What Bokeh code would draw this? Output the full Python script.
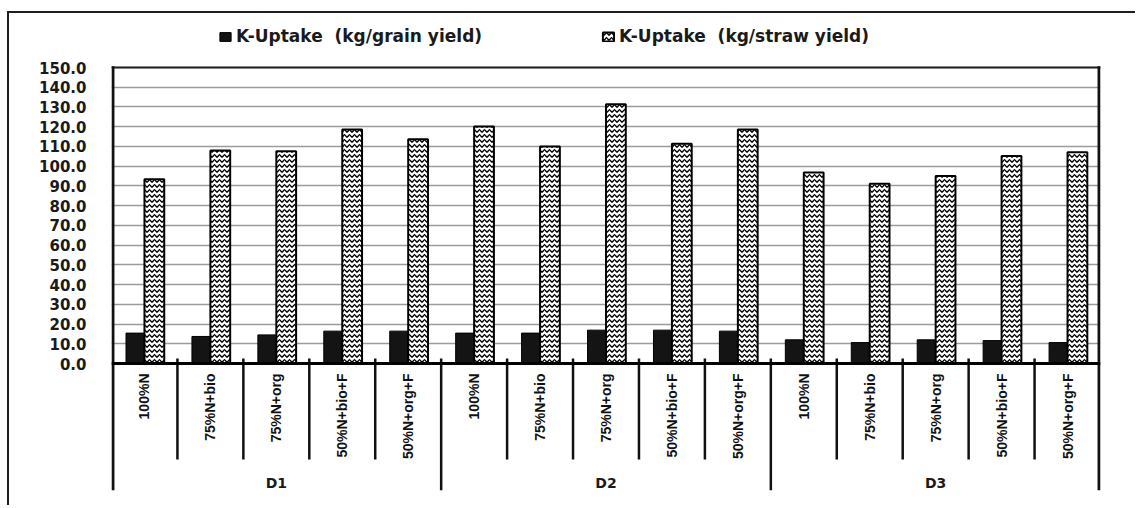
import math
from bokeh.plotting import figure
from bokeh.models import (FactorRange, Range1d, ColumnDataSource, FixedTicker,
                          PrintfTickFormatter, Span, Legend, LegendItem)
from bokeh.transform import dodge
from bokeh.core.properties import value
from bokeh.embed import file_html
from bokeh.resources import INLINE

# ---------------- data ----------------
groups = ["D1", "D2", "D3"]
treatments = ["100%N", "75%N+bio", "75%N+org", "50%N+bio+F", "50%N+org+F"]
grain_uptake = [15.4, 13.7, 14.5, 16.4, 16.4,
                15.4, 15.4, 16.9, 16.9, 16.4,
                12.0, 10.6, 12.0, 11.6, 10.6]
straw_uptake = [93.4, 108.0, 107.6, 118.6, 113.7,
                120.1, 110.0, 131.4, 111.3, 118.6,
                96.8, 91.1, 95.0, 105.1, 107.0]
y_ticks = [0, 10, 20, 30, 40, 50, 60, 70, 80, 90, 100, 110, 120, 130, 140, 150]
series_names = ["K-Uptake  (kg/grain yield)", "K-Uptake  (kg/straw yield)"]

factors = [(g, t) for g in groups for t in treatments]

# ---------------- layout helpers (canvas pixels) ----------------
W, H = 1128, 494
PX_PER_UNIT = 296.0 / 150.0
ZERO_PX = 350.0          # canvas y of value 0
FRAME_LEFT = 102
FRAME_RIGHT = 1091
FRAME_TOP = 2
FRAME_BOTTOM = 477


def val(px):
    return (ZERO_PX - px) / PX_PER_UNIT


x_range = FactorRange(factors=factors, factor_padding=0, group_padding=0,
                      subgroup_padding=0, range_padding=0)
y_range = Range1d(val(FRAME_BOTTOM), val(FRAME_TOP))

p = figure(width=W, height=H, x_range=x_range, y_range=y_range,
           output_backend="svg", toolbar_location=None, x_axis_location=None,
           min_border_left=FRAME_LEFT, min_border_right=W - FRAME_RIGHT,
           min_border_top=FRAME_TOP, min_border_bottom=H - FRAME_BOTTOM)
p.styles = {"border-left": "2px solid #1e1e1e", "border-top": "2px solid #1e1e1e",
            "margin-top": "11px", "margin-left": "7px"}
p.outline_line_color = None
p.background_fill_color = "white"
p.border_fill_color = "white"

# grid
p.xgrid.visible = False
p.ygrid[0].ticker = FixedTicker(ticks=y_ticks)
p.ygrid.grid_line_color = "#9b9b9b"
p.ygrid.grid_line_width = 1.5

# y axis (labels only; the border lines are drawn below)
ya = p.yaxis[0]
ya.ticker = FixedTicker(ticks=y_ticks)
ya.formatter = PrintfTickFormatter(format="%.1f")
ya.major_tick_line_color = None
ya.minor_tick_line_color = None
ya.axis_line_color = None
ya.major_label_standoff = 19
ya.major_label_text_font = "DejaVu Sans"
ya.major_label_text_font_style = "bold"
ya.major_label_text_font_size = "15px"
ya.major_label_text_color = "#1a1a1a"

# bars
src = ColumnDataSource(dict(x=factors, grain=grain_uptake, straw=straw_uptake))
r1 = p.vbar(x=dodge("x", -0.14, range=p.x_range), top="grain", width=0.28,
            source=src, fill_color="#141414", line_color="#000000", line_width=1)
r2 = p.vbar(x=dodge("x", 0.15, range=p.x_range), top="straw", width=0.30,
            source=src, fill_color="white", line_color="#000000", line_width=2,
            hatch_pattern="horizontal_wave", hatch_color="#000000",
            hatch_scale=5, hatch_weight=1.3)

# plot-area top border and x axis line
top_val = y_ticks[-1]
n = len(factors)
per = len(treatments)
border = ColumnDataSource(dict(x0=[0], x1=[n], y=[top_val]))
p.segment(x0="x0", x1="x1", y0="y", y1="y", source=border,
          line_color="#222222", line_width=2)
p.add_layout(Span(location=0, dimension="width", line_color="#000000", line_width=3))

# left / right borders of the plot area (run down through the label rows)
edges = ColumnDataSource(dict(x=[0.022, n - 0.022], y0=[top_val + 0.6] * 2,
                              y1=[y_range.start] * 2))
p.segment(x0="x", x1="x", y0="y0", y1="y1", source=edges,
          line_color="#111111", line_width=3)

# category separators (synthetic coordinates: boundaries between factors)
bx = list(range(1, n))
y_bottom = [y_range.start if (b % per == 0) else val(446) for b in bx]
sep = ColumnDataSource(dict(x=bx, y0=[2.5] * len(bx), y1=y_bottom))
p.segment(x0="x", x1="x", y0="y0", y1="y1", source=sep,
          line_color="#111111", line_width=2.5)

# category labels (rotated) and group labels
lab = ColumnDataSource(dict(x=factors, text=[t for g in groups for t in treatments],
                            y=[val(360)] * n))
p.text(x="x", y="y", text="text", source=lab, angle=math.pi / 2,
       text_align="right", text_baseline="middle",
       text_font=value("Liberation Sans"), text_font_style="bold",
       text_font_size="14px", text_color="#111111")

glab = ColumnDataSource(dict(x=groups, text=groups, y=[val(469)] * len(groups)))
p.text(x="x", y="y", text="text", source=glab, text_align="center",
       text_baseline="middle", text_font=value("DejaVu Sans"),
       text_font_style="bold", text_font_size="14px", text_color="#1a1a1a")

# legend (inside the frame, above the plot area)
legend = Legend(items=[LegendItem(label=series_names[0], renderers=[r1]),
                       LegendItem(label=series_names[1], renderers=[r2])],
                orientation="horizontal", location=(107, 444), padding=0, margin=0,
                spacing=119, glyph_width=14, glyph_height=11, label_standoff=4,
                label_text_font="DejaVu Sans", label_text_font_style="bold",
                label_text_font_size="17px", label_text_color="#1a1a1a",
                background_fill_alpha=0, border_line_color=None)
p.add_layout(legend)

open("out.html", "w").write(file_html(p, INLINE))
